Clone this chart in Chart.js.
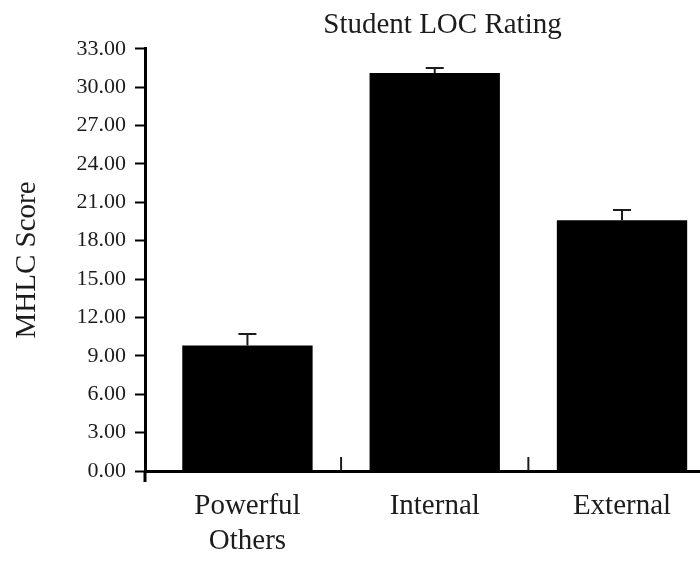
<!DOCTYPE html>
<html>
<head>
<meta charset="utf-8">
<script src="https://cdn.jsdelivr.net/npm/chart.js@4.4.1/dist/chart.umd.min.js"></script>
<style>
  html, body { margin: 0; padding: 0; background: #fff; overflow: hidden; }
  #wrap { width: 740px; height: 561px; position: relative; }
</style>
</head>
<body>
<div id="wrap"><canvas id="chart"></canvas></div>
<script>
// values
const categories = [['Powerful', 'Others'], 'Internal', 'External'];
const means = [9.8, 31.1, 19.6];
const errorTops = [10.7, 31.5, 20.4];
const yTicks = [0, 3, 6, 9, 12, 15, 18, 21, 24, 27, 30, 33];

const ink = '#1c1c1c';
const serif = "'Liberation Serif', 'DejaVu Serif', serif";

// upper error whiskers, small ticks between groups, y axis stub below zero
const extras = {
  id: 'extras',
  afterDatasetsDraw(chart) {
    const ctx = chart.ctx;
    const x = chart.scales.x;
    const y = chart.scales.y;
    const meta = chart.getDatasetMeta(0);
    ctx.save();
    ctx.strokeStyle = ink;
    ctx.lineWidth = 2;
    meta.data.forEach((bar, i) => {
      const top = y.getPixelForValue(errorTops[i]);
      ctx.beginPath();
      ctx.moveTo(bar.x, bar.y);
      ctx.lineTo(bar.x, top);
      ctx.moveTo(bar.x - 9, top);
      ctx.lineTo(bar.x + 9, top);
      ctx.stroke();
    });
    for (let k = 0; k < categories.length - 1; k++) {
      const px = x.getPixelForValue(k + 0.5);
      ctx.beginPath();
      ctx.moveTo(px, y.bottom);
      ctx.lineTo(px, y.bottom - 14);
      ctx.stroke();
    }
    ctx.lineWidth = 3;
    ctx.strokeStyle = '#000';
    ctx.beginPath();
    ctx.moveTo(x.left, y.bottom);
    ctx.lineTo(x.left, y.bottom + 11);
    ctx.stroke();
    ctx.restore();
  }
};

new Chart(document.getElementById('chart'), {
  type: 'bar',
  data: {
    datasets: [{
      data: means.map((v, i) => ({ x: i, y: v })),
      backgroundColor: '#000',
      borderWidth: 0,
      barPercentage: 0.87,
      categoryPercentage: 0.8
    }]
  },
  options: {
    responsive: true,
    maintainAspectRatio: false,
    animation: false,
    layout: { padding: { left: 6, right: 0, top: 0, bottom: 2 } },
    plugins: {
      legend: { display: false },
      tooltip: { enabled: false },
      title: {
        display: true,
        text: 'Student LOC Rating',
        fullSize: false,
        color: ink,
        font: { family: serif, size: 29, weight: 'normal' },
        padding: { top: 8, bottom: 6 }
      }
    },
    scales: {
      x: {
        type: 'linear',
        offset: false,
        min: -0.547,
        max: 2.63,
        afterBuildTicks: (scale) => { scale.ticks = categories.map((c, i) => ({ value: i })); },
        afterFit: (scale) => { scale.height = 88; },
        ticks: {
          callback: (v) => categories[v],
          color: ink,
          font: { family: serif, size: 29 },
          padding: 18,
          maxRotation: 0,
          autoSkip: false
        },
        grid: { display: false, drawTicks: false, offset: false },
        border: { display: true, color: '#000', width: 3 }
      },
      y: {
        min: 0,
        max: 33,
        afterBuildTicks: (scale) => { scale.ticks = yTicks.map(v => ({ value: v })); },
        afterFit: (scale) => { scale.width = 139; },
        ticks: {
          callback: (v) => v.toFixed(2),
          color: ink,
          font: { family: serif, size: 22 },
          padding: 9
        },
        grid: { drawOnChartArea: false, drawTicks: true, tickLength: 10, tickColor: '#000', tickWidth: 2 },
        border: { display: true, color: '#000', width: 3 },
        title: {
          display: true,
          text: 'MHLC Score',
          color: ink,
          font: { family: serif, size: 29 }
        }
      }
    }
  },
  plugins: [extras]
});
</script>
</body>
</html>
